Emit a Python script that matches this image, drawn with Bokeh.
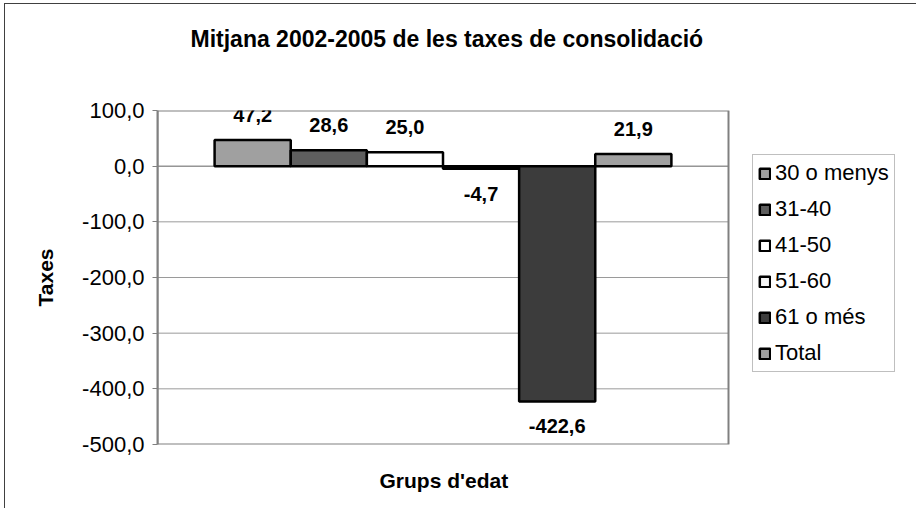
import numpy as np
from bokeh.plotting import figure
from bokeh.models import ColumnDataSource, Range1d, FixedTicker, Legend, LegendItem, Title
from bokeh.core.properties import value
from bokeh.embed import file_html
from bokeh.resources import INLINE

# ---- data ----
categories = ["30 o menys", "31-40", "41-50", "51-60", "61 o més", "Total"]
values = [47.2, 28.6, 25.0, -4.7, -422.6, 21.9]
value_labels = ["47,2", "28,6", "25,0", "-4,7", "-422,6", "21,9"]
bar_colors = ["#a0a0a0", "#5e5e5e", "#ffffff", "#f4f4f4", "#3c3c3c", "#a0a0a0"]
y_ticks = [-500, -400, -300, -200, -100, 0, 100]
y_tick_labels = ["-500,0", "-400,0", "-300,0", "-200,0", "-100,0", "0,0", "100,0"]

title_text = "Mitjana 2002-2005 de les taxes de consolidació"
x_title = "Grups d'edat"
y_title = "Taxes"

FONT = "Liberation Sans"

n = len(categories)
gap = 0.75                      # half of Excel's 150 % gap width
area_left, area_right = -gap, n + gap
y_lo, y_hi = min(y_ticks), max(y_ticks)

FRAME_W = 755                   # plot area (571 px) + room for the legend
AREA_W = 571
x_end = area_left + (area_right - area_left) * FRAME_W / AREA_W

xpos = np.arange(n) + 0.5
src = ColumnDataSource(dict(
    x=xpos,
    top=values,
    cat=categories,
    color=bar_colors,
    lab=value_labels,
    yoff=[-25 if v >= 0 else 25 for v in values],
))

p = figure(frame_width=FRAME_W, frame_height=334, output_backend="svg", toolbar_location=None,
           x_range=Range1d(area_left, x_end), y_range=Range1d(y_lo, y_hi),
           x_axis_location=None,
           min_border_left=152, min_border_right=4, min_border_top=106,
           min_border_bottom=64)
p.styles = {"border-left": "1px solid #404040", "border-top": "1px solid #404040",
            "margin-left": "4px", "margin-top": "3px"}

p.background_fill_color = "white"
p.border_fill_color = "white"
p.outline_line_color = None

# titles: spacer closest to the frame, then the real title
spacer = Title(text=" ", text_font_size="51px", standoff=0)
main_title = Title(text=title_text, align="left", offset=33,
                   text_font=FONT, text_font_size="23px", text_font_style="bold",
                   text_color="black", standoff=0)
p.title = None
p.add_layout(spacer, "above")
p.add_layout(main_title, "above")

# x-axis title, centred under the plot area
xspacer = Title(text=" ", text_font_size="18px", standoff=0)
xtitle = Title(text=x_title, align="left", offset=222,
               text_font=FONT, text_font_size="21px", text_font_style="bold",
               text_color="black", standoff=0)
p.add_layout(xspacer, "below")
p.add_layout(xtitle, "below")

# grid lines limited to the plot area
p.xgrid.visible = False
p.ygrid.visible = False
inner = [t for t in y_ticks if y_lo < t < y_hi and t != 0]
p.segment(x0=[area_left] * len(inner), x1=[area_right] * len(inner), y0=inner, y1=inner,
          line_color="#9a9a9a", line_width=1)
p.segment(x0=[area_left], x1=[area_right], y0=[0], y1=[0],
          line_color="#606060", line_width=1)

# bars
bars = p.vbar(x="x", top="top", bottom=0, width=1.0, source=src,
              fill_color="color", line_color="black", line_width=2.5)

# plot-area border
p.quad(left=[area_left], right=[area_right], top=[y_hi], bottom=[y_lo],
       fill_color=None, line_color="#808080", line_width=2)

# value labels
p.text(x="x", y="top", text="lab", source=src, y_offset="yoff",
       text_align="center", text_baseline="middle",
       text_font=value(FONT), text_font_size="20px", text_font_style="bold",
       text_color="black")

# y axis
ya = p.yaxis[0]
ya.ticker = FixedTicker(ticks=y_ticks)
ya.major_label_overrides = {t: l for t, l in zip(y_ticks, y_tick_labels)}
ya.major_label_text_font = FONT
ya.major_label_text_font_size = "22px"
ya.major_label_text_color = "black"
ya.major_tick_in = 0
ya.major_tick_out = 5
ya.major_tick_line_color = "#808080"
ya.minor_tick_line_color = None
ya.axis_line_color = "#808080"
ya.axis_line_width = 2
ya.major_label_standoff = 8
ya.axis_label = y_title
ya.axis_label_text_font = FONT
ya.axis_label_text_font_size = "21px"
ya.axis_label_text_font_style = "bold"
ya.axis_label_text_color = "black"
ya.axis_label_standoff = 22

# legend inside the (extended) frame, right of the plot area
items = [LegendItem(label=c, renderers=[bars], index=i) for i, c in enumerate(categories)]
leg = Legend(items=items, location=(595, 72))
leg.label_text_font = FONT
leg.label_text_font_size = "22px"
leg.label_text_color = "black"
leg.glyph_width = 13
leg.glyph_height = 13
leg.label_height = 22
leg.label_standoff = 4
leg.spacing = 10
leg.padding = 5
leg.margin = 0
leg.border_line_color = "#808080"
leg.border_line_width = 1
leg.background_fill_color = "white"
leg.background_fill_alpha = 1.0
p.add_layout(leg, "center")

open("out.html", "w").write(file_html(p, INLINE))
